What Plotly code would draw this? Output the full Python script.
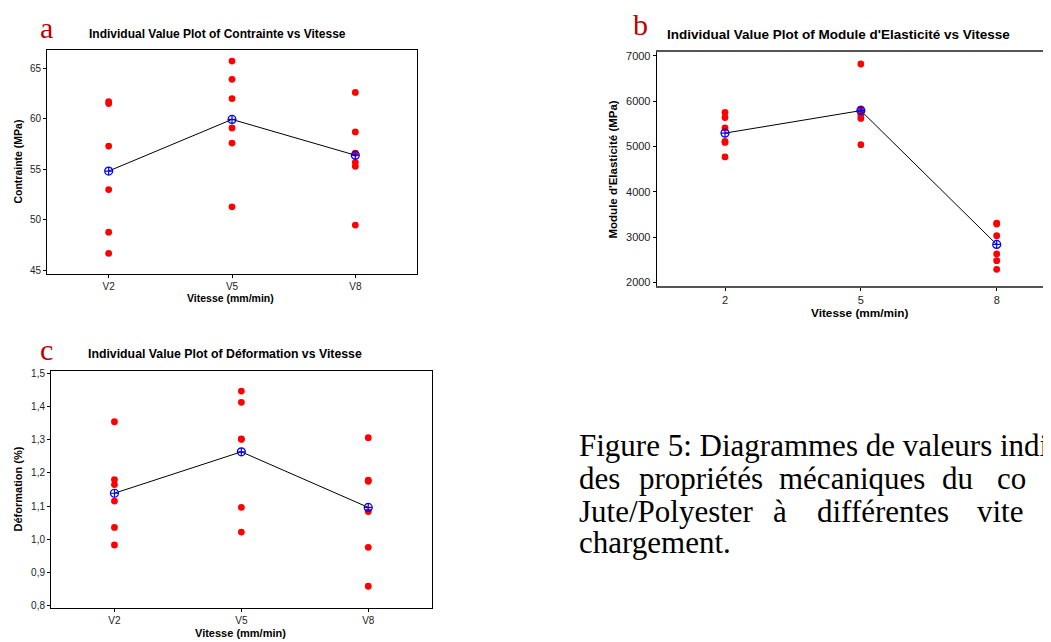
import numpy as np
import plotly.graph_objects as go

W, H = 1051, 642
OFF = 8  # default page body margin that shifts the figure on screen

# ---------------- data ----------------
categories = ["V2", "V5", "V8"]
speeds = [2, 5, 8]

contrainte_V2 = [61.5, 61.7, 57.3, 53.0, 48.8, 46.7]
contrainte_V5 = [65.7, 63.9, 62.0, 59.1, 57.6, 51.3]
contrainte_V8 = [62.6, 58.7, 56.6, 55.7, 55.3, 49.5]

module_2 = [5750, 5640, 5410, 5110, 5090, 4770]
module_5 = [6820, 5830, 5760, 5680, 5620, 5040]
module_8 = [3310, 3290, 3030, 2630, 2480, 2290]

deformation_V2 = [1.355, 1.18, 1.165, 1.115, 1.035, 0.982]
deformation_V5 = [1.448, 1.414, 1.302, 1.303, 1.096, 1.021]
deformation_V8 = [1.307, 1.178, 1.175, 1.083, 0.975, 0.857]

contrainte_ticks = [45, 50, 55, 60, 65]
module_ticks = [2000, 3000, 4000, 5000, 6000, 7000]
deformation_ticks = [0.8, 0.9, 1.0, 1.1, 1.2, 1.3, 1.4, 1.5]
deformation_ticktext = ["0,8", "0,9", "1,0", "1,1", "1,2", "1,3", "1,4", "1,5"]

caption_line1 = "Figure 5: Diagrammes de valeurs indi"
caption_line2 = ["des", "propriétés", "mécaniques", "du", "co"]
caption_line3 = ["Jute/Polyester", "à", "différentes", "vite"]
caption_line4 = "chargement."

# ---------------- helpers (screen pixels -> paper) ----------------
def px_x(x):
    return (x - OFF) / W

def px_y(y):
    return 1 - (y - OFF) / H

RED = "#FF0000"
BLUE = "#0000FF"
SANS = "Liberation Sans"

fig = go.Figure()


def add_panel(xaxis, yaxis, groups, xs):
    allx, ally = [], []
    for xv, vals in zip(xs, groups):
        allx += [xv] * len(vals)
        ally += list(vals)
    means = [float(np.mean(v)) for v in groups]
    fig.add_trace(go.Scatter(x=allx, y=ally, mode="markers", xaxis=xaxis, yaxis=yaxis,
                             marker=dict(color=RED, size=6.8, line=dict(width=0)),
                             showlegend=False, hoverinfo="x+y"))
    fig.add_trace(go.Scatter(x=xs, y=means, mode="lines", xaxis=xaxis, yaxis=yaxis,
                             line=dict(color="black", width=1), showlegend=False))
    fig.add_trace(go.Scatter(x=xs, y=means, mode="markers", xaxis=xaxis, yaxis=yaxis,
                             marker=dict(symbol="circle-cross-open", color=BLUE, size=8,
                                         line=dict(color=BLUE, width=1.2)),
                             showlegend=False))


add_panel("x", "y", [contrainte_V2, contrainte_V5, contrainte_V8], categories)
add_panel("x2", "y2", [module_2, module_5, module_8], speeds)
add_panel("x3", "y3", [deformation_V2, deformation_V5, deformation_V8], categories)

axis_common = dict(showline=True, linecolor="black", linewidth=1, ticks="outside",
                   ticklen=3, tickcolor="black", showgrid=False, zeroline=False,
                   tickfont=dict(family=SANS, size=10, color="#222222"))

# panel b: x scale, "2" at screen x=725, "8" at 996.7
b_px_per_unit = (996.7 - 725.0) / 6.0
b_left = 2 - (725.0 - 656.7) / b_px_per_unit
b_right = 2 + (W + OFF - 725.0) / b_px_per_unit

fig.update_layout(
    width=W, height=H, margin=dict(l=0, r=0, t=0, b=0),
    paper_bgcolor="white", plot_bgcolor="white", showlegend=False,
    xaxis=dict(axis_common, domain=[px_x(47), px_x(417)], anchor="y", type="category",
               range=[-0.5, 2.5], mirror=True, categoryorder="array", categoryarray=categories),
    yaxis=dict(axis_common, domain=[px_y(273), px_y(47)], anchor="x", range=[44.71, 66.83],
               mirror=True, tickvals=contrainte_ticks, ticktext=[str(t) for t in contrainte_ticks]),
    xaxis2=dict(axis_common, domain=[px_x(656.7), 1.0], anchor="y2", range=[b_left, b_right],
                mirror=True, tickvals=speeds, ticktext=[str(s) for s in speeds],
                linecolor="#555555", linewidth=1.5,
                tickfont=dict(family=SANS, size=11, color="#222222")),
    yaxis2=dict(axis_common, domain=[px_y(286), px_y(49.3)], anchor="x2", range=[1912.6, 7087],
                mirror=False, tickvals=module_ticks, ticktext=[str(t) for t in module_ticks],
                tickfont=dict(family=SANS, size=11, color="#222222")),
    xaxis3=dict(axis_common, domain=[px_x(51), px_x(431.7)], anchor="y3", type="category",
                range=[-0.5, 2.5], mirror=True, categoryorder="array", categoryarray=categories),
    yaxis3=dict(axis_common, domain=[px_y(611), px_y(371.7)], anchor="x3", range=[0.7901, 1.5078],
                mirror=True, tickvals=deformation_ticks, ticktext=deformation_ticktext),
)


def text(x, y, s, size, bold=False, family=SANS, color="black", angle=0, xanchor="center",
         yanchor="middle"):
    fig.add_annotation(x=px_x(x), y=px_y(y), xref="paper", yref="paper", text=s,
                       showarrow=False, textangle=angle, xanchor=xanchor, yanchor=yanchor,
                       borderpad=0,
                       font=dict(family=family, size=size, color=color,
                                 weight="bold" if bold else "normal"))


# panel titles
text(217, 31, "Individual Value Plot of Contrainte vs Vitesse", 12, bold=True)
text(838, 32, "Individual Value Plot of Module d'Elasticité vs Vitesse", 13.5, bold=True)
text(225, 354.3, "Individual Value Plot of Déformation vs Vitesse", 12.3, bold=True)

# axis titles
text(230, 297.5, "Vitesse (mm/min)", 10.5, bold=True)
text(860, 312.5, "Vitesse (mm/min)", 11.8, bold=True)
text(240, 636, "Vitesse (mm/min)", 11, bold=True)
text(18, 160, "Contrainte (MPa)", 10.5, bold=True, angle=-90)
text(613, 168, "Module d'Elasticité (MPa)", 11.5, bold=True, angle=-90)
text(18, 491, "Déformation (%)", 11, bold=True, angle=-90)

# panel letters
SERIF = "Liberation Serif"
DARKRED = "#C00000"
text(46, 25, "a", 30, family=SERIF, color=DARKRED)
text(640, 22, "b", 30, family=SERIF, color=DARKRED)
text(46, 350, "c", 30, family=SERIF, color=DARKRED)

# caption: justified lines (word starts in screen px), cut at the right edge
CAP = 31
line2_x = [578, 638, 778, 941, 996]
line3_x = [578, 772, 816, 976]
text(578, 447, caption_line1, CAP, family=SERIF, xanchor="left")
for x, w in zip(line2_x, caption_line2):
    text(x, 480, w, CAP, family=SERIF, xanchor="left")
for x, w in zip(line3_x, caption_line3):
    text(x, 513, w, CAP, family=SERIF, xanchor="left")
text(578, 545, caption_line4, CAP, family=SERIF, xanchor="left")

fig.write_html("out.html")
